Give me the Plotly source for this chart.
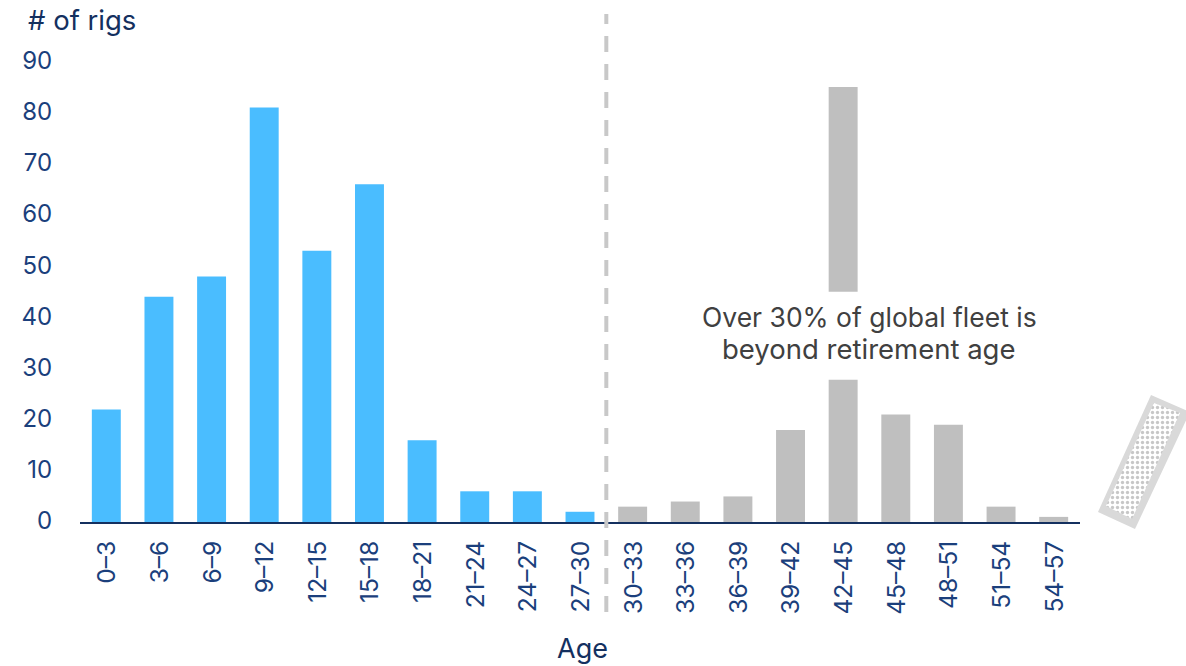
import plotly.graph_objects as go

W, H = 1186, 666
FONT = "Inter"
NAVY = "#1B3F7C"
DARK = "#14305F"

age_bands = ["0–3", "3–6", "6–9", "9–12", "12–15", "15–18", "18–21", "21–24", "24–27", "27–30",
             "30–33", "33–36", "36–39", "39–42", "42–45", "45–48", "48–51", "51–54", "54–57"]
rig_counts = [22, 44, 48, 81, 53, 66, 16, 6, 6, 2, 3, 4, 5, 18, 85, 21, 19, 3, 1]
retirement_index = 10  # first band past retirement age
y_ticks = [0, 10, 20, 30, 40, 50, 60, 70, 80, 90]
note_lines = ["Over 30% of global fleet is", "beyond retirement age"]
note_sizes = [26.5, 27.5]

# Tilted rig badge at the right edge, in page pixels
badge_outer_x = [1151, 1190, 1135, 1098]
badge_outer_y = [395, 412, 529, 512]
badge_inner_x = [1154, 1180, 1132, 1106]
badge_inner_y = [403, 413, 519, 506]

colors = ["#4ABDFF" if i < retirement_index else "#BFBFBF" for i in range(len(age_bands))]

fig = go.Figure()
fig.add_bar(x=age_bands, y=rig_counts, width=0.55, marker=dict(color=colors, line=dict(width=0)), hoverinfo="skip")

# Badge drawn on a hidden full-page axis pair
fig.add_scatter(x=badge_outer_x, y=badge_outer_y, xaxis="x2", yaxis="y2", mode="lines", fill="toself",
                fillcolor="#D9D9D9", line=dict(width=0), hoverinfo="skip")
fig.add_scatter(x=badge_inner_x, y=badge_inner_y, xaxis="x2", yaxis="y2", mode="lines", fill="toself",
                fillcolor="white", line=dict(width=0), hoverinfo="skip",
                fillpattern=dict(shape=".", fgcolor="#8F8F8F", bgcolor="white", size=5, solidity=0.35))

fig.add_shape(type="line", xref="x", yref="paper", x0=9.5, x1=9.5, y0=1 - 612 / H, y1=1 - 14 / H,
              line=dict(color="#C8C8C8", width=4, dash="16px,12px"))

# White break across the tall 42–45 bar, behind the note
fig.add_shape(type="rect", xref="x", yref="y", x0=13.6, x1=14.4, y0=27.8, y1=45, layer="above",
              fillcolor="white", line=dict(width=0))

for line_text, line_size, py in zip(note_lines, note_sizes, [317, 349]):
    fig.add_annotation(x=869 / W, y=1 - py / H, xref="paper", yref="paper", text=line_text,
                       showarrow=False, xanchor="center", yanchor="middle",
                       font=dict(family=FONT, size=line_size, color="#404040"))
fig.add_annotation(x=26 / W, y=1 - 20 / H, xref="paper", yref="paper", text="# of rigs", showarrow=False,
                   xanchor="left", yanchor="middle", font=dict(family=FONT, size=27.5, color=DARK))
fig.add_annotation(x=582 / W, y=1 - 648 / H, xref="paper", yref="paper", text="Age", showarrow=False,
                   xanchor="center", yanchor="middle", font=dict(family=FONT, size=27, color=DARK))

fig.update_layout(
    width=W, height=H, margin=dict(l=0, r=0, t=0, b=0, pad=0, autoexpand=False),
    paper_bgcolor="white", plot_bgcolor="rgba(0,0,0,0)",
    showlegend=False, font=dict(family=FONT),
    xaxis=dict(domain=[80 / W, 1080 / W], type="category", categoryorder="array", categoryarray=age_bands,
               range=[-0.5, 18.5], showgrid=False, showline=True, linecolor=DARK, linewidth=2, zeroline=False,
               tickangle=-90, tickfont=dict(family=FONT, size=24.5, color=NAVY),
               ticks="outside", ticklen=7, tickcolor="rgba(0,0,0,0)", ticklabelshift=1),
    yaxis=dict(domain=[1 - 522 / H, 1 - 61.5 / H], range=[0, 90], tickvals=y_ticks, showgrid=False, zeroline=False,
               showline=False, tickfont=dict(family=FONT, size=24, color=NAVY),
               ticks="outside", ticklen=22, tickcolor="rgba(0,0,0,0)", ticklabelshift=-1),
    xaxis2=dict(domain=[0, 1], range=[0, W], visible=False, anchor="y2", fixedrange=True),
    yaxis2=dict(domain=[0, 1], range=[H, 0], visible=False, anchor="x2", fixedrange=True),
)

fig.write_html("out.html", config={"displayModeBar": False})
